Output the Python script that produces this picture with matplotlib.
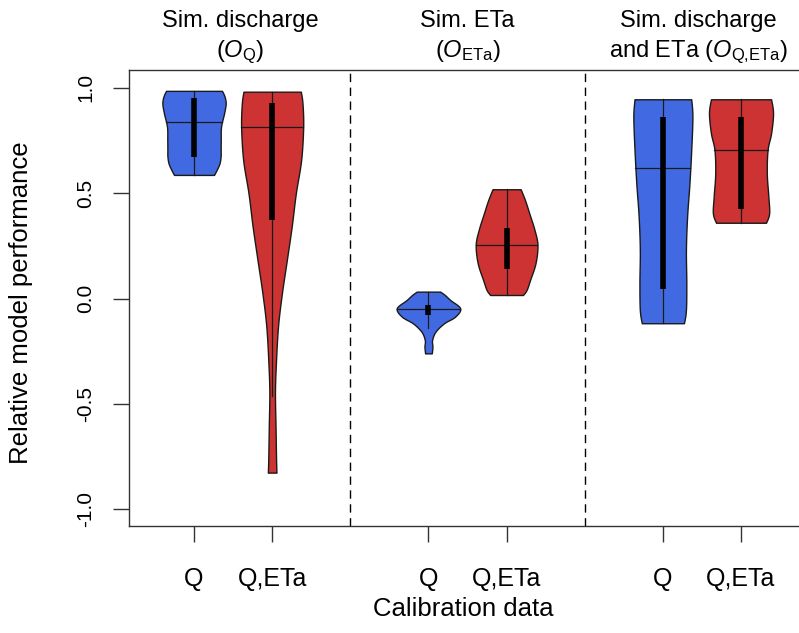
import numpy as np
import matplotlib.pyplot as plt

plt.rcParams['font.family'] = ['Liberation Sans', 'DejaVu Sans']
plt.rcParams['mathtext.fontset'] = 'custom'
plt.rcParams['mathtext.rm'] = 'Liberation Sans'
plt.rcParams['mathtext.it'] = 'Liberation Sans:italic'

BLUE = '#4169E1'
RED = '#CD3333'

# x positions of the violins, tick labels
positions = [1, 2, 4, 5, 7, 8]
tick_labels = ['Q', 'Q,ETa', 'Q', 'Q,ETa', 'Q', 'Q,ETa']
colours = [BLUE, RED, BLUE, RED, BLUE, RED]

# violin outlines: value levels and half widths
v1_y = [0.587, 0.611, 0.642, 0.674, 0.706, 0.753, 0.816, 0.880, 0.927, 0.960, 0.986]
v1_w = [0.256, 0.29, 0.326, 0.34, 0.341, 0.342, 0.346, 0.385, 0.405, 0.39, 0.358]

v2_y = [-0.826, -0.764, -0.606, -0.446, -0.306, -0.132, 0.026, 0.184, 0.342, 0.50, 0.658, 0.816, 0.927, 0.982]
v2_w = [0.055, 0.05, 0.043, 0.036, 0.048, 0.075, 0.125, 0.188, 0.25, 0.303, 0.371, 0.397, 0.388, 0.367]

v3_y = [-0.26, -0.228, -0.197, -0.157, -0.117, -0.086, -0.046, -0.007, 0.017, 0.033]
v3_w = [0.043, 0.051, 0.047, 0.09, 0.2, 0.34, 0.406, 0.28, 0.21, 0.15]

v4_y = [0.017, 0.041, 0.088, 0.168, 0.255, 0.326, 0.405, 0.468, 0.519]
v4_w = [0.21, 0.256, 0.3, 0.37, 0.395, 0.357, 0.29, 0.235, 0.18]

v5_y = [-0.117, -0.054, 0.073, 0.231, 0.389, 0.547, 0.706, 0.864, 0.946]
v5_w = [0.27, 0.295, 0.3, 0.295, 0.31, 0.34, 0.363, 0.378, 0.363]

v6_y = [0.36, 0.405, 0.484, 0.595, 0.706, 0.785, 0.880, 0.946]
v6_w = [0.32, 0.36, 0.35, 0.33, 0.34, 0.385, 0.41, 0.385]

profiles_y = [v1_y, v2_y, v3_y, v4_y, v5_y, v6_y]
profiles_w = [v1_w, v2_w, v3_w, v4_w, v5_w, v6_w]

# summary statistics
medians = [0.837, 0.816, -0.051, 0.255, 0.619, 0.706]
q_low = [0.674, 0.373, -0.078, 0.139, 0.044, 0.424]
q_high = [0.951, 0.927, -0.030, 0.337, 0.861, 0.864]
whisk_low = [0.587, -0.46, -0.141, 0.017, -0.117, 0.36]
whisk_high = [0.986, 0.982, 0.033, 0.519, 0.946, 0.946]

group_line1 = ['Sim. discharge', 'Sim. ETa', 'Sim. discharge']
group_line2 = ['($\\mathit{O}_{\\mathrm{Q}}$)',
               '($\\mathit{O}_{\\mathrm{ETa}}$)',
               'and ETa ($\\mathit{O}_{\\mathrm{Q{,}ETa}}$)']
group_centres = [1.59, 4.5, 7.45]
separators = [3, 6]


def smooth_outline(y, w, n=12):
    # Catmull-Rom through the read points, for a rounder outline
    p = np.column_stack([y, w])
    p = np.vstack([p[0], p, p[-1]])
    out = []
    t = np.linspace(0, 1, n, endpoint=False)[:, None]
    for k in range(1, len(p) - 2):
        p0, p1, p2, p3 = p[k - 1], p[k], p[k + 1], p[k + 2]
        seg = 0.5 * ((2 * p1) + (-p0 + p2) * t + (2 * p0 - 5 * p1 + 4 * p2 - p3) * t ** 2
                     + (-p0 + 3 * p1 - 3 * p2 + p3) * t ** 3)
        out.append(seg)
    out.append(p[-2][None, :])
    out = np.vstack(out)
    return out[:, 0], out[:, 1]


W, H = 799, 633
fig = plt.figure(figsize=(W / 100, H / 100), dpi=100)
ax = fig.add_axes([129 / W, 1 - 525.7 / H, (W - 129) / W, (525.7 - 70) / H])

edge = '#1a1a1a'
for i, pos in enumerate(positions):
    yy, ww = smooth_outline(profiles_y[i], profiles_w[i])
    ax.fill_betweenx(yy, pos - ww, pos + ww, facecolor=colours[i],
                     edgecolor=edge, linewidth=1.0, zorder=2)
    # thin whisker line
    ax.plot([pos, pos], [whisk_low[i], whisk_high[i]], color=edge, lw=0.9, zorder=3)
    # thick interquartile bar
    ax.plot([pos, pos], [q_low[i], q_high[i]], color='black', lw=4.0,
            solid_capstyle='butt', zorder=4)
    # median line across the violin
    mw = np.interp(medians[i], yy, ww)
    ax.plot([pos - mw, pos + mw], [medians[i], medians[i]], color=edge, lw=0.9, zorder=3)

for s in separators:
    ax.axvline(s, color='black', lw=1.0, linestyle=(0, (6, 4)), zorder=1)

ax.set_xlim(0.168, 8.742)
ax.set_ylim(-1.078, 1.085)
ax.set_xticks(positions)
ax.set_xticklabels(tick_labels)
ax.set_yticks([-1.0, -0.5, 0.0, 0.5, 1.0])
ax.set_yticklabels(['-1.0', '-0.5', '0.0', '0.5', '1.0'], rotation=90, va='center')
ax.tick_params(axis='both', length=11.5, width=1.0, color='#333333')
ax.tick_params(axis='x', labelsize=18, pad=18)
ax.tick_params(axis='y', labelsize=15, pad=13)
ax.spines['right'].set_visible(False)
for sp in ['left', 'top', 'bottom']:
    ax.spines[sp].set_linewidth(1.0)
    ax.spines[sp].set_color('#333333')

tr = ax.get_xaxis_transform()
for c, t1, t2 in zip(group_centres, group_line1, group_line2):
    ax.text(c, 1 + (70 - 27) / 455.7, t1, transform=tr, ha='center', va='baseline', fontsize=17)
    ax.text(c, 1 + (70 - 57) / 455.7, t2, transform=tr, ha='center', va='baseline', fontsize=17)

fig.text(21 / W, 1 - 303 / H, 'Relative model performance', rotation=90,
         ha='center', va='center', fontsize=18.5)
fig.text(463 / W, 1 - 616 / H, 'Calibration data',
         ha='center', va='baseline', fontsize=18.5)

fig.savefig('out.png', dpi=100)
